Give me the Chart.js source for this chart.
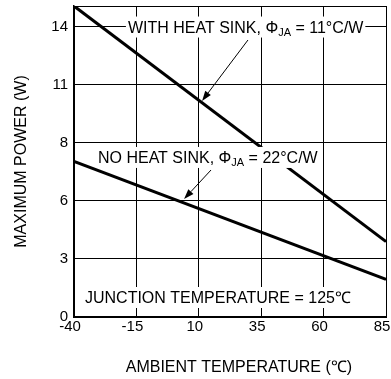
<!DOCTYPE html>
<html>
<head>
<meta charset="utf-8">
<script src="https://cdn.jsdelivr.net/npm/chart.js@4.4.0/dist/chart.umd.min.js"></script>
<style>
  html, body { margin: 0; padding: 0; background: #fff; }
  #wrap { width: 391px; height: 379px; }
</style>
</head>
<body>
<div id="wrap"><canvas id="chart" width="391" height="379"></canvas></div>
<script>
// derating lines, read at both ends of the ambient range
const ambientTemp = [-40, 85];          // °C
const powerWithSink = [15.0, 3.64];     // W, theta JA = 11 C/W
const powerNoSink = [7.5, 1.82];        // W, theta JA = 22 C/W

const xTicks = [-40, -15, 10, 35, 60, 85];
const yTicks = [0, 2.8, 5.6, 8.4, 11.2, 14];
const yTickLabels = ['0', '3', '6', '8', '11', '14'];

const FONT = 'Liberation Sans, Arial, sans-serif';

function toPoints(xs, ys){ return xs.map((v, i) => ({x: v, y: ys[i]})); }

// text with a Φ_JA subscript, on a white box, like the datasheet
function drawNote(ctx, x0, base, pre, sub, post){
  ctx.font = '16px ' + FONT;
  const w1 = ctx.measureText(pre).width;
  const w3 = post ? ctx.measureText(post).width : 0;
  ctx.font = '11px ' + FONT;
  const w2 = sub ? ctx.measureText(sub).width : 0;
  const total = w1 + w2 + w3;
  ctx.fillStyle = '#fff';
  ctx.fillRect(x0 - 2, base - 16, total + 4, 21);
  ctx.fillStyle = '#000';
  ctx.textBaseline = 'alphabetic';
  ctx.textAlign = 'left';
  ctx.font = '16px ' + FONT;
  ctx.fillText(pre, x0, base);
  if(sub){
    ctx.font = '11px ' + FONT;
    ctx.fillText(sub, x0 + w1, base + 3);
  }
  if(post){
    ctx.font = '16px ' + FONT;
    ctx.fillText(post, x0 + w1 + w2, base);
  }
}

function drawArrow(ctx, x1, y1, x2, y2){
  const a = Math.atan2(y2 - y1, x2 - x1);
  const len = 10, half = 3.5;
  const bx = x2 - len * Math.cos(a), by = y2 - len * Math.sin(a);
  ctx.strokeStyle = '#000';
  ctx.lineWidth = 1;
  ctx.beginPath();
  ctx.moveTo(x1, y1);
  ctx.lineTo(bx, by);
  ctx.stroke();
  ctx.fillStyle = '#000';
  ctx.beginPath();
  ctx.moveTo(x2, y2);
  ctx.lineTo(bx + half * Math.sin(a), by - half * Math.cos(a));
  ctx.lineTo(bx - half * Math.sin(a), by + half * Math.cos(a));
  ctx.closePath();
  ctx.fill();
}

const notesPlugin = {
  id: 'notes',
  afterDatasetsDraw(chart){
    const {ctx, scales: {x, y}} = chart;
    const X = v => x.getPixelForValue(v);
    const Y = v => y.getPixelForValue(v);
    ctx.save();
    drawNote(ctx, X(-18.4), Y(13.72), 'WITH HEAT SINK, \u03A6', 'JA', ' = 11\u00B0C/W');
    drawNote(ctx, X(-30.4), Y(7.43), 'NO HEAT SINK, \u03A6', 'JA', ' = 22\u00B0C/W');
    drawNote(ctx, X(-35.6), Y(0.675), 'JUNCTION TEMPERATURE = 125\u2103', '', '');
    drawArrow(ctx, X(29.7), Y(13.36), X(11.3), Y(10.42));
    drawArrow(ctx, X(14.9), Y(7.09), X(4.1), Y(5.69));
    ctx.restore();
  }
};

new Chart(document.getElementById('chart').getContext('2d'), {
  type: 'line',
  data: {
    datasets: [
      { label: 'With heat sink', data: toPoints(ambientTemp, powerWithSink), borderColor: '#000', borderWidth: 3, pointRadius: 0, fill: false, tension: 0 },
      { label: 'No heat sink', data: toPoints(ambientTemp, powerNoSink), borderColor: '#000', borderWidth: 3, pointRadius: 0, fill: false, tension: 0 }
    ]
  },
  options: {
    responsive: false,
    animation: false,
    devicePixelRatio: 1,
    layout: { padding: { top: 6, right: 5, left: 0, bottom: 0 } },
    plugins: { legend: { display: false }, tooltip: { enabled: false } },
    scales: {
      x: {
        type: 'linear', min: -40, max: 85,
        afterBuildTicks: s => { s.ticks = xTicks.map(v => ({value: v})); },
        afterFit: s => { s.height = 62; s.paddingLeft = 0; s.paddingRight = 0; },
        ticks: { color: '#000', font: { family: FONT, size: 15 }, padding: 1, labelOffset: -4, maxRotation: 0, autoSkip: false },
        grid: { color: '#000', lineWidth: 1, drawTicks: false },
        border: { color: '#000', width: 2 },
        // leading spaces push the centred title right, as in the original
        title: { display: true, text: '    AMBIENT TEMPERATURE (\u2103)', color: '#000', font: { family: FONT, size: 16 }, padding: { top: 0, bottom: 1.5 } }
      },
      y: {
        type: 'linear', min: 0, max: 15,
        afterBuildTicks: s => { s.ticks = yTicks.concat([15]).map(v => ({value: v})); },
        afterFit: s => { s.width = 74; s.paddingTop = 0; s.paddingBottom = 0; },
        ticks: { color: '#000', font: { family: FONT, size: 15 }, padding: 6, autoSkip: false,
          callback: (v, i) => (i < yTickLabels.length ? yTickLabels[i] : '') },
        grid: { color: '#000', lineWidth: 1, drawTicks: false },
        border: { color: '#000', width: 1.5 },
        title: { display: true, text: 'MAXIMUM POWER (W)', color: '#000', font: { family: FONT, size: 16 }, padding: { top: 12, bottom: 0 } }
      }
    }
  },
  plugins: [notesPlugin]
});
</script>
</body>
</html>
